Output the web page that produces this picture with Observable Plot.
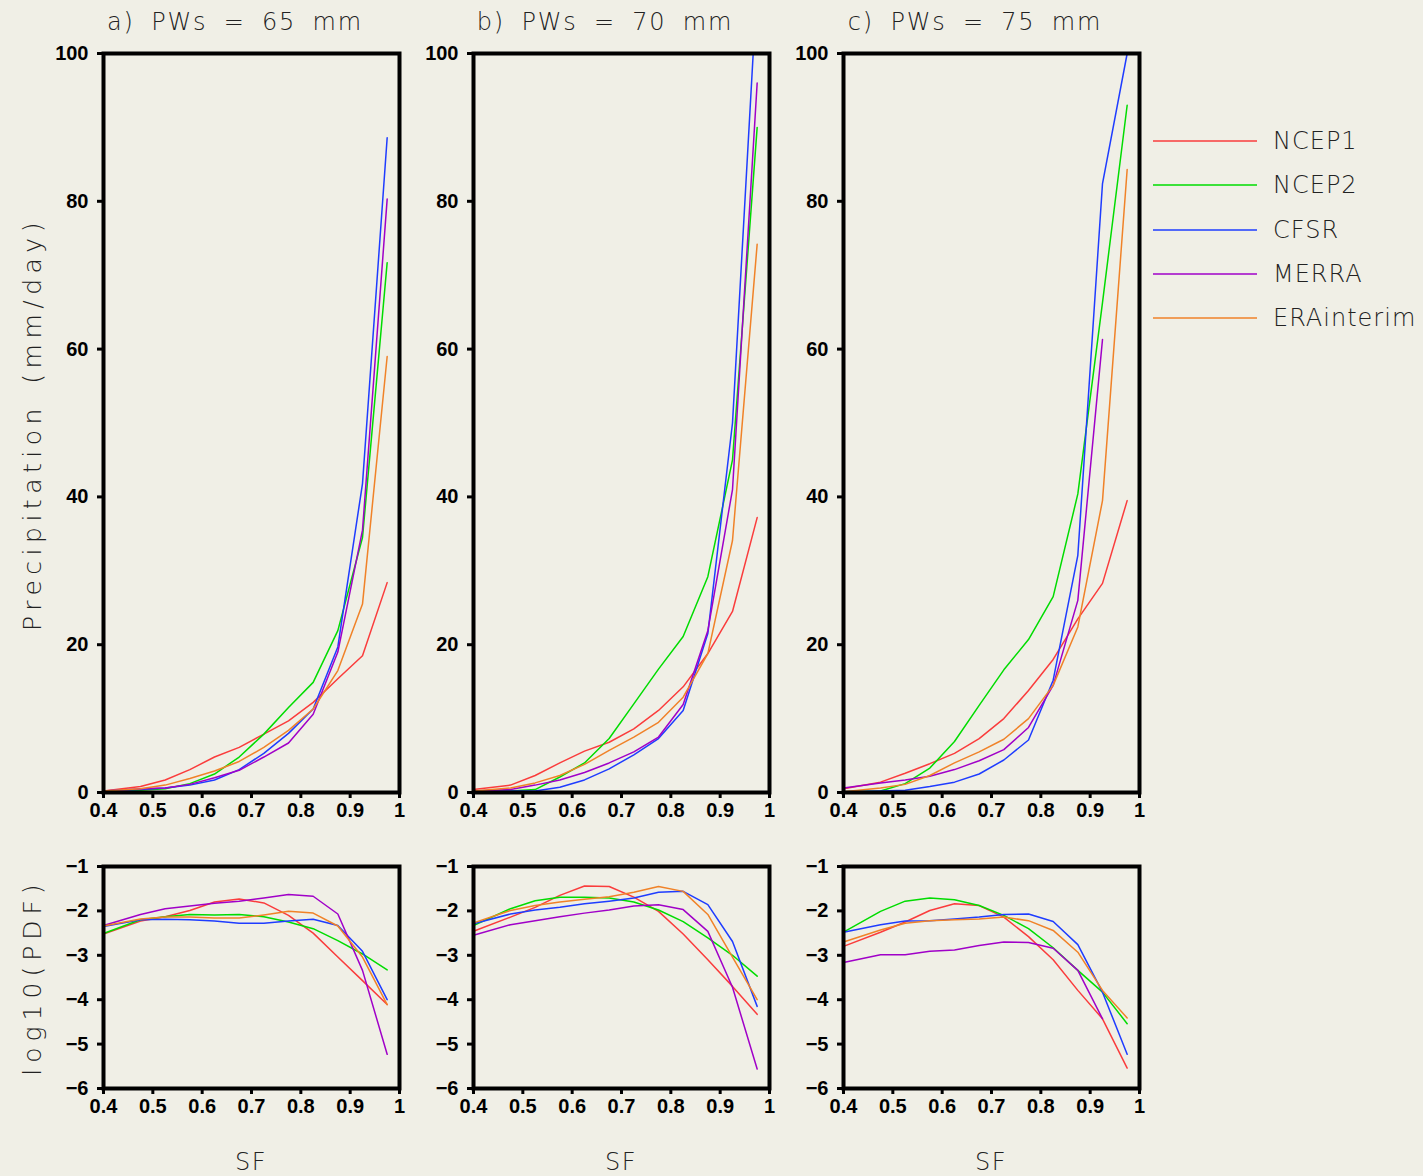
<!DOCTYPE html>
<html>
<head>
<meta charset="utf-8">
<script src="https://cdn.jsdelivr.net/npm/d3@7"></script>
<script src="https://cdn.jsdelivr.net/npm/@observablehq/plot@0.6"></script>
<style>
  html, body { margin: 0; padding: 0; background: #f0efe6; }
  #root { position: relative; width: 1423px; height: 1176px; background: #f0efe6; overflow: hidden; }
  .lbl { position: absolute; font-family: "DejaVu Sans", sans-serif; font-weight: 200; color: #222; white-space: pre; }
  .panel { position: absolute; }
</style>
</head>
<body>
<div id="root"></div>
<script>
// ---------------- data ----------------
const sf = [0.4, 0.475, 0.525, 0.575, 0.625, 0.675, 0.725, 0.775, 0.825, 0.875, 0.925, 0.975];
const reanalyses = ["NCEP1", "NCEP2", "CFSR", "MERRA", "ERAinterim"];
const lineColors = ["#fa3c3c", "#00dc00", "#1e3cff", "#a000c8", "#f08228"];
const panelTitles = ["a) PWs = 65 mm", "b) PWs = 70 mm", "c) PWs = 75 mm"];
const xTicks = [0.4, 0.5, 0.6, 0.7, 0.8, 0.9, 1];
const precipTicks = [0, 20, 40, 60, 80, 100];
const pdfTicks = [-1, -2, -3, -4, -5, -6];

// Precipitation (mm/day), rows in order of reanalyses
const precipA = [
  [0.2, 0.8, 1.7, 3.1, 4.8, 6.1, 7.9, 9.7, 12.2, 15.4, 18.5, 28.4],
  [0.2, 0.3, 0.5, 1.2, 2.5, 4.8, 7.9, 11.5, 14.9, 21.9, 34.5, 71.7],
  [0.2, 0.4, 0.6, 1.0, 1.7, 3.1, 5.3, 8.0, 11.3, 19.7, 41.8, 88.6],
  [0.2, 0.5, 0.6, 1.1, 2.0, 3.0, 4.8, 6.7, 10.6, 19.0, 35.5, 80.3],
  [0.2, 0.5, 1.0, 1.9, 2.9, 4.2, 6.1, 8.4, 11.3, 16.5, 25.5, 59.0]
];
const precipB = [
  [0.4, 1.0, 2.3, 4.0, 5.6, 6.8, 8.6, 11.1, 14.3, 18.8, 24.5, 37.2],
  [0.2, 0.2, 0.4, 2.1, 4.0, 7.3, 12.0, 16.7, 21.1, 29.2, 45.0, 90.0],
  [0.2, 0.2, 0.2, 0.7, 1.7, 3.2, 5.1, 7.3, 11.1, 21.5, 50.0, 109.6],
  [0.2, 0.4, 1.0, 1.7, 2.7, 4.0, 5.5, 7.5, 11.9, 21.9, 41.0, 96.0],
  [0.2, 0.6, 1.3, 2.3, 3.8, 5.7, 7.5, 9.5, 12.9, 18.8, 34.1, 74.2]
];
const precipC = [
  [0.5, 1.4, 2.6, 3.9, 5.3, 7.3, 10.0, 13.8, 18.0, 23.5, 28.3, 39.5],
  [0.1, 0.2, 1.2, 3.3, 6.9, 11.8, 16.6, 20.7, 26.5, 40.4, 66.3, 93.0],
  [0.1, 0.2, 0.3, 0.8, 1.4, 2.5, 4.4, 7.1, 15.2, 32.1, 82.4, 100.0],
  [0.6, 1.3, 1.7, 2.2, 3.1, 4.3, 5.8, 8.8, 14.5, 26.0, 61.3, null],
  [0.1, 0.6, 1.1, 2.3, 4.0, 5.5, 7.2, 10.0, 14.5, 22.4, 39.5, 84.3]
];
// log10(PDF)
const pdfA = [
  [-2.52, -2.23, -2.13, -1.99, -1.80, -1.73, -1.82, -2.10, -2.50, -3.04, -3.57, -4.11],
  [-2.51, -2.20, -2.13, -2.08, -2.09, -2.08, -2.13, -2.25, -2.40, -2.67, -2.97, -3.33],
  [-2.35, -2.20, -2.19, -2.20, -2.23, -2.28, -2.28, -2.23, -2.19, -2.33, -2.91, -4.00],
  [-2.33, -2.08, -1.95, -1.89, -1.83, -1.78, -1.71, -1.63, -1.67, -2.07, -3.34, -5.23],
  [-2.34, -2.18, -2.14, -2.14, -2.16, -2.16, -2.09, -2.01, -2.05, -2.34, -3.04, -4.11]
];
const pdfB = [
  [-2.46, -2.14, -1.92, -1.65, -1.44, -1.45, -1.69, -2.01, -2.52, -3.10, -3.70, -4.33],
  [-2.33, -1.95, -1.77, -1.69, -1.69, -1.71, -1.80, -1.98, -2.24, -2.61, -3.00, -3.47],
  [-2.29, -2.07, -1.98, -1.92, -1.84, -1.78, -1.71, -1.58, -1.56, -1.86, -2.69, -4.15],
  [-2.55, -2.31, -2.22, -2.13, -2.05, -1.98, -1.89, -1.86, -1.97, -2.46, -3.72, -5.56],
  [-2.27, -1.99, -1.88, -1.80, -1.74, -1.68, -1.58, -1.45, -1.56, -2.08, -3.04, -4.00]
];
const pdfC = [
  [-2.80, -2.48, -2.25, -1.99, -1.84, -1.88, -2.14, -2.58, -3.10, -3.79, -4.43, -5.54],
  [-2.48, -2.01, -1.78, -1.71, -1.75, -1.88, -2.10, -2.40, -2.83, -3.34, -3.83, -4.54],
  [-2.48, -2.31, -2.23, -2.22, -2.18, -2.14, -2.08, -2.07, -2.24, -2.76, -3.83, -5.23],
  [-3.16, -2.99, -2.99, -2.91, -2.88, -2.78, -2.70, -2.71, -2.84, -3.34, -4.43, null],
  [-2.70, -2.43, -2.28, -2.22, -2.20, -2.18, -2.14, -2.22, -2.44, -2.93, -3.79, -4.41]
];

// ---------------- layout ----------------
const root = document.getElementById("root");
const panelLeft = [103, 473, 843];
const plotW = 296;
const topY = 53, topH = 739;
const botY = 866, botH = 222;
const mL = 70, mR = 24, mT = 12, mB = 40;

function toRows(matrix) {
  const rows = [];
  matrix.forEach((series, i) => {
    series.forEach((v, j) => rows.push({sf: sf[j], v, name: reanalyses[i]}));
  });
  return rows;
}

function makePanel(matrix, yDomain, yTicks, h) {
  const rows = toRows(matrix);
  return Plot.plot({
    width: plotW + mL + mR,
    height: h + mT + mB,
    marginLeft: mL, marginRight: mR, marginTop: mT, marginBottom: mB,
    style: {background: "transparent", fontFamily: "'Liberation Sans', Arial, sans-serif", fontSize: "20px", fontWeight: "bold", color: "black", overflow: "visible"},
    x: {domain: [0.4, 1]},
    y: {domain: yDomain},
    color: {domain: reanalyses, range: lineColors},
    marks: [
      Plot.line(rows, {x: "sf", y: "v", z: "name", stroke: "name", strokeWidth: 1.5, clip: true, curve: "linear"}),
      Plot.frame({stroke: "black", strokeWidth: 4}),
      Plot.axisX({ticks: xTicks, tickFormat: d => d === 1 ? "1" : d.toFixed(1), tickSize: 6, tickPadding: 4, strokeWidth: 3, label: null}),
      Plot.axisY({ticks: yTicks, tickFormat: d => d3.format("")(d).replace("-", "\u2212"), tickSize: 6, tickPadding: 9, strokeWidth: 3, label: null})
    ]
  });
}

const precipSets = [precipA, precipB, precipC];
const pdfSets = [pdfA, pdfB, pdfC];

for (let k = 0; k < 3; k++) {
  const top = makePanel(precipSets[k], [0, 100], precipTicks, topH);
  top.classList.add("panel");
  top.style.left = (panelLeft[k] - mL) + "px";
  top.style.top = (topY - mT) + "px";
  root.appendChild(top);

  const bot = makePanel(pdfSets[k], [-6, -1], pdfTicks, botH);
  bot.classList.add("panel");
  bot.style.left = (panelLeft[k] - mL) + "px";
  bot.style.top = (botY - mT) + "px";
  root.appendChild(bot);

  const t = document.createElement("div");
  t.className = "lbl";
  t.textContent = panelTitles[k];
  t.style.cssText += `left:${panelLeft[k] + plotW / 2 - 16}px; top:22px; transform: translate(-50%,-50%); font-size:24px; letter-spacing:1.8px; word-spacing:7px;`;
  root.appendChild(t);

  const s = document.createElement("div");
  s.className = "lbl";
  s.textContent = "SF";
  s.style.cssText += `left:${panelLeft[k] + plotW / 2}px; top:1162px; transform: translate(-50%,-50%); font-size:24px; letter-spacing:1.5px;`;
  root.appendChild(s);
}

function yLabel(text, cy, ls) {
  const d = document.createElement("div");
  d.className = "lbl";
  d.textContent = text;
  d.style.cssText += `left:32px; top:${cy}px; transform: translate(-50%,-50%) rotate(-90deg); font-size:25px; letter-spacing:${ls}px; word-spacing:6px;`;
  root.appendChild(d);
}
yLabel("Precipitation (mm/day)", 424, 5.5);
yLabel("log10(PDF)", 977, 6);

// legend
const legY = [141, 185, 230, 274, 318];
const legSvg = d3.select(root).append("svg")
  .attr("width", 120).attr("height", 360)
  .style("position", "absolute").style("left", "1145px").style("top", "0px");
reanalyses.forEach((name, i) => {
  legSvg.append("line")
    .attr("x1", 8).attr("x2", 112).attr("y1", legY[i]).attr("y2", legY[i])
    .attr("stroke", lineColors[i]).attr("stroke-width", 1.5);
  const tx = document.createElement("div");
  tx.className = "lbl";
  tx.textContent = name;
  tx.style.cssText += `left:1273px; top:${legY[i]}px; transform: translateY(-50%); font-size:24px; letter-spacing:1px;`;
  root.appendChild(tx);
});
</script>
</body>
</html>
